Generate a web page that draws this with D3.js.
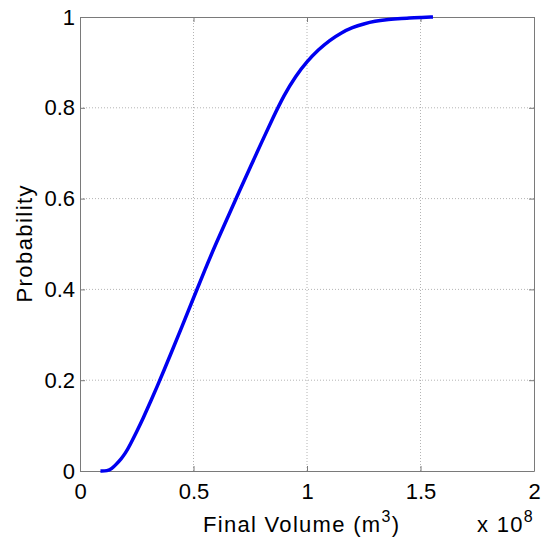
<!DOCTYPE html>
<html><head><meta charset="utf-8">
<script src="https://cdn.jsdelivr.net/npm/d3@7"></script>
<style>
html,body{margin:0;padding:0;background:#fff;}
svg{display:block;}
text{font-family:"Liberation Sans",Arial,Helvetica,sans-serif;fill:#000;}
</style></head>
<body><svg id="c" width="541" height="542"></svg>
<script>
// Final volume in units of 1e8 m^3
const volume = [0.09,0.12,0.14,0.16,0.18,0.20,0.22,0.25,0.28,0.31,0.34,0.37,0.40,0.45,0.50,0.55,0.60,0.65,0.70,0.75,0.80,0.85,0.90,0.95,1.00,1.05,1.10,1.15,1.20,1.25,1.30,1.35,1.40,1.45,1.50,1.555];
const probability = [0,0,0.005,0.015,0.026,0.039,0.057,0.087,0.118,0.152,0.186,0.222,0.258,0.319,0.381,0.443,0.502,0.558,0.614,0.669,0.724,0.778,0.829,0.870,0.902,0.928,0.949,0.965,0.977,0.985,0.991,0.994,0.996,0.998,0.999,1];
const xTicks = [0,0.5,1,1.5,2];
const xTickLabels = ["0","0.5","1","1.5","2"];
const yTicks = [0,0.2,0.4,0.6,0.8,1];
const yTickLabels = ["0","0.2","0.4","0.6","0.8","1"];

const svg = d3.select("#c");
const L=80,R=534,T=17,B=471;
const x = d3.scaleLinear().domain([0,2]).range([L,R]);
const y = d3.scaleLinear().domain([0,1]).range([B,T]);

// grid
const g = svg.append("g");
g.selectAll(".gx").data(xTicks.slice(1,-1)).enter().append("line")
  .attr("x1",d=>x(d)).attr("x2",d=>x(d)).attr("y1",T).attr("y2",B)
  .attr("stroke","#b4b4b4").attr("stroke-width",1).attr("stroke-dasharray","1,2");
g.selectAll(".gy").data(yTicks.slice(1,-1)).enter().append("line")
  .attr("y1",d=>y(d)).attr("y2",d=>y(d)).attr("x1",L).attr("x2",R)
  .attr("stroke","#b4b4b4").attr("stroke-width",1).attr("stroke-dasharray","1,2");

// axes (ticks inside)
const axB = d3.axisBottom(x).tickValues(xTicks).tickFormat((d,i)=>xTickLabels[i]).tickSizeInner(-5).tickSizeOuter(0).tickPadding(12);
const axL = d3.axisLeft(y).tickValues(yTicks).tickFormat((d,i)=>yTickLabels[i]).tickSizeInner(-5).tickSizeOuter(0).tickPadding(5);
const axT = d3.axisTop(x).tickValues(xTicks).tickFormat("").tickSizeInner(-5).tickSizeOuter(0);
const axR = d3.axisRight(y).tickValues(yTicks).tickFormat("").tickSizeInner(-5).tickSizeOuter(0);
function style(sel){
  sel.selectAll("path").attr("stroke","#7a7a7a").attr("stroke-width",1);
  sel.selectAll("line").attr("stroke","#7a7a7a").attr("stroke-width",1);
  sel.selectAll("text").style("font-size","22px").attr("fill","#000");
}
svg.append("g").attr("transform",`translate(0,${B})`).call(axB).call(style);
svg.append("g").attr("transform",`translate(${L},0)`).call(axL).call(style);
svg.append("g").attr("transform",`translate(0,${T})`).call(axT).call(style);
svg.append("g").attr("transform",`translate(${R},0)`).call(axR).call(style);

// curve
const line = d3.line().x((d,i)=>x(volume[i])).y(d=>y(d)).curve(d3.curveBasis);
svg.append("path").datum(probability).attr("d",line)
  .attr("fill","none").attr("stroke","#0000f0").attr("stroke-width",3.5)
  .attr("stroke-linejoin","round").attr("stroke-linecap","butt");

// labels
const xl = svg.append("text").attr("x",203).attr("y",532).style("font-size","22px").style("letter-spacing","1.3px");
xl.append("tspan").text("Final Volume (m");
xl.append("tspan").attr("dy",-10).style("font-size","16px").text("3");
xl.append("tspan").attr("dy",10).text(")");

const ex = svg.append("text").attr("x",477).attr("y",532).style("font-size","22px").style("letter-spacing","1.3px");
ex.append("tspan").text("x 10");
ex.append("tspan").attr("dy",-10).style("font-size","16px").text("8");

svg.append("text").attr("transform",`translate(31.5,${(T+B)/2}) rotate(-90)`)
  .attr("text-anchor","middle").style("font-size","22px")
  .attr("textLength",117).attr("lengthAdjust","spacing").text("Probability");
</script></body></html>
